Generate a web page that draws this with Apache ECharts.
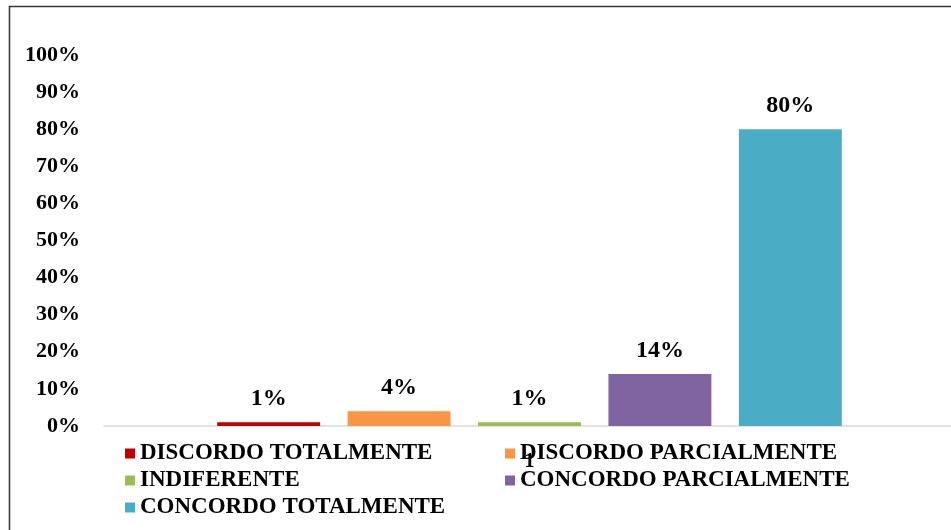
<!DOCTYPE html>
<html>
<head>
<meta charset="utf-8">
<script src="https://cdn.jsdelivr.net/npm/echarts@6/dist/echarts.min.js"></script>
<style>
html,body{margin:0;padding:0;background:#fff;overflow:hidden;width:951px;height:530px;}
#c{width:955px;height:530px;}
</style>
</head>
<body>
<div id="c"></div>
<script>
const categories = ['1'];
const seriesNames = ['DISCORDO TOTALMENTE','DISCORDO PARCIALMENTE','INDIFERENTE','CONCORDO PARCIALMENTE','CONCORDO TOTALMENTE'];
const seriesValues = [[1],[4],[1],[14],[80]];
const seriesColors = ['#C00000','#F79646','#9BBB59','#8064A2','#4BACC6'];
const yTicks = [0,10,20,30,40,50,60,70,80,90,100];

const FONT = '"Liberation Serif", "Times New Roman", serif';
const chart = echarts.init(document.getElementById('c'), null, {renderer:'canvas'});
const legendText = {fontFamily: FONT, fontWeight: 'bold', fontSize: 23, color: '#000', lineHeight: 20};
chart.setOption({
  animation: false,
  backgroundColor: '#fff',
  graphic: [{
    type: 'rect', silent: true,
    shape: {x: 9.5, y: 6.5, width: 960, height: 540},
    style: {fill: 'none', stroke: '#3a3a3a', lineWidth: 1.6}
  }],
  grid: {left: 104, right: 0, top: 55, bottom: 104, containLabel: false},
  legend: [
    {data: [seriesNames[0], seriesNames[2], seriesNames[4]], orient: 'vertical', left: 125, top: 442,
     icon: 'rect', itemWidth: 10, itemHeight: 10, itemGap: 4, textStyle: legendText, padding: 0},
    {data: [seriesNames[1], seriesNames[3]], orient: 'vertical', left: 505, top: 442,
     icon: 'rect', itemWidth: 10, itemHeight: 10, itemGap: 4, textStyle: legendText, padding: 0}
  ],
  xAxis: {
    type: 'category', data: categories,
    axisLine: {show: true, lineStyle: {color: '#D9D9D9', width: 1.5}},
    axisTick: {show: false},
    axisLabel: {margin: 26, fontFamily: FONT, fontWeight: 'bold', fontSize: 20, color: '#000'}
  },
  yAxis: {
    type: 'value', min: 0, max: 100, interval: 10,
    axisLine: {show: false}, axisTick: {show: false}, splitLine: {show: false},
    axisLabel: {margin: 24, fontFamily: FONT, fontWeight: 'bold', fontSize: 22, color: '#000',
      formatter: v => yTicks.includes(v) ? v + '%' : ''}
  },
  series: seriesNames.map((n, i) => ({
    name: n, type: 'bar', data: seriesValues[i],
    barGap: '26.7%', barCategoryGap: '26.6%',
    itemStyle: {color: seriesColors[i]},
    label: {show: true, position: 'top', distance: 11, formatter: p => p.value + '%',
      fontFamily: FONT, fontWeight: 'bold', fontSize: 24, color: '#000'}
  }))
});
</script>
</body>
</html>
